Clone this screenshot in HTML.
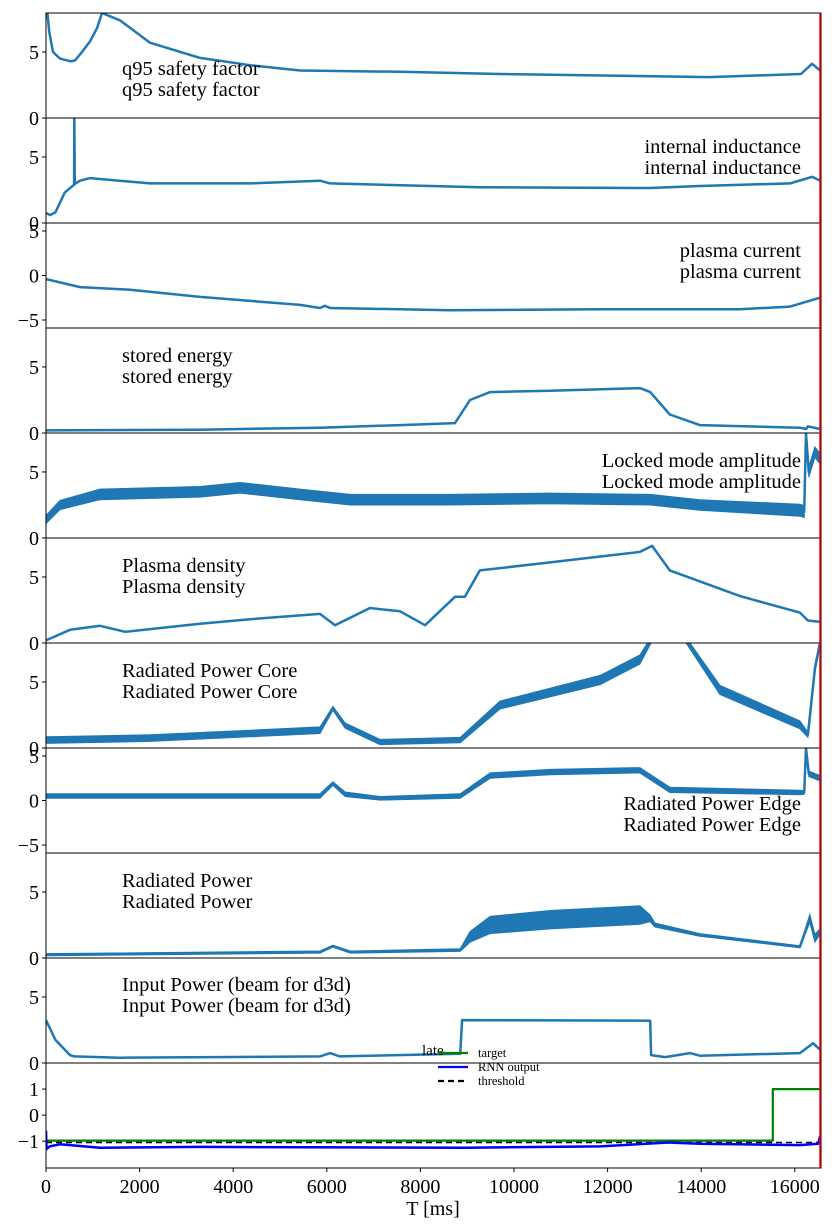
<!DOCTYPE html>
<html><head><meta charset="utf-8"><style>
body{margin:0;background:#fff}
svg{display:block;font-family:"Liberation Serif",serif}
</style></head><body>
<svg id="chart" width="834" height="1230" viewBox="0 0 834 1230" xmlns="http://www.w3.org/2000/svg"></svg>
<script>
// ---- data (time in ms, values in normalized units) ----
const xTicks=[0,2000,4000,6000,8000,10000,12000,14000,16000];
const panelNames=["q95 safety factor","internal inductance","plasma current","stored energy","Locked mode amplitude","Plasma density","Radiated Power Core","Radiated Power Edge","Radiated Power","Input Power (beam for d3d)"];
const q95T=[30,70,150,300,513,620,770,940,1090,1197,1580,2222,3290,4360,5430,7565,9700,14180,16130,16370,16540];
const q95V=[7.95,6.5,5.0,4.5,4.3,4.35,5.0,5.8,6.8,7.95,7.4,5.7,4.55,4.0,3.6,3.5,3.33,3.1,3.33,4.1,3.6];
const liT=[10,85,200,400,600,605,615,726,940,2222,4360,5855,6070,9270,12910,13970,15900,16370,16540];
const liV=[0.75,0.6,0.8,2.3,2.9,7.95,2.95,3.2,3.4,3.0,3.0,3.2,3.0,2.7,2.65,2.8,3.0,3.5,3.2];
const ipT=[0,726,1795,3290,5430,5855,5960,6070,8630,11840,14830,15900,16540];
const ipV=[-0.4,-1.3,-1.6,-2.4,-3.3,-3.65,-3.4,-3.65,-3.9,-3.8,-3.8,-3.5,-2.5];
const weT=[0,3290,5855,7565,8740,9060,9490,10770,12690,12910,13330,13970,16110,16240,16280,16540];
const weV=[0.2,0.25,0.4,0.6,0.75,2.5,3.1,3.2,3.4,3.1,1.4,0.6,0.4,0.3,0.5,0.3];
const lmT=[0,300,1154,3290,4145,5430,6500,8630,10770,12910,13970,16110,16200,16240,16300,16430,16540];
const lmV=[1.4,2.5,3.3,3.5,3.8,3.3,2.9,2.9,3.0,2.9,2.5,2.1,2.0,7.9,5.0,6.5,6.0];
const lmS=[0.3,0.35,0.4,0.4,0.4,0.4,0.4,0.4,0.4,0.4,0.4,0.45,0.45,0.2,0.4,0.4,0.4];
const neT=[0,513,1154,1690,3290,4360,5855,6175,6920,7565,8100,8740,8950,9270,10770,12690,12950,13330,14830,16110,16280,16540];
const neV=[0.2,1.0,1.3,0.85,1.45,1.8,2.2,1.35,2.65,2.4,1.35,3.5,3.5,5.5,6.1,6.9,7.35,5.5,3.55,2.3,1.7,1.6];
const prcT=[0,2222,4360,5855,6130,6390,7140,8850,9700,11840,12690,12950,13650,14400,16110,16280,16430,16540];
const prcV=[0.6,0.75,1.1,1.35,3.0,1.7,0.45,0.6,3.25,5.15,6.7,8.3,8.3,4.4,1.75,1.0,6.0,8.0];
const prcS=[0.25,0.25,0.25,0.25,0.15,0.2,0.2,0.2,0.3,0.35,0.35,0.2,0.2,0.35,0.3,0.2,0.3,0.2];
const preT=[0,5855,6130,6390,7140,8850,9490,10770,12690,13330,16110,16200,16240,16300,16540];
const preV=[0.5,0.5,1.9,0.7,0.25,0.5,2.8,3.2,3.4,1.2,0.9,0.9,5.9,3.0,2.5];
const preS=[0.25,0.25,0.2,0.25,0.2,0.25,0.3,0.3,0.3,0.3,0.25,0.2,0.2,0.3,0.3];
const prT=[0,5855,6130,6500,8850,9060,9490,10770,12690,12910,13010,13970,16110,16320,16430,16540];
const prV=[0.25,0.45,0.9,0.45,0.6,1.6,2.5,2.9,3.25,3.0,2.5,1.75,0.85,3.0,1.5,2.0];
const prS=[0.08,0.08,0.08,0.08,0.1,0.4,0.65,0.7,0.7,0.25,0.15,0.1,0.08,0.3,0.3,0.2];
const pinT=[0,200,513,600,1580,5855,6070,6280,8850,8890,12910,12930,13230,13760,13970,16110,16390,16540];
const pinV=[3.25,1.75,0.6,0.5,0.4,0.5,0.75,0.5,0.7,3.25,3.2,0.6,0.45,0.75,0.55,0.75,1.5,1.0];
const targetT=[0,15530,15530,16540];
const targetV=[-0.98,-0.98,1.0,1.0];
const rnnT=[0,10,80,300,1150,3290,6500,9000,11840,13300,13970,16110,16500,16540];
const rnnV=[-0.6,-1.3,-1.2,-1.12,-1.25,-1.22,-1.24,-1.25,-1.2,-1.05,-1.1,-1.15,-1.1,-0.8];
const thrT=[0,16540];
const thrV=[-1.05,-1.05];
const yTicksA=[0,5];
const yTicksB=[-5,0,5];
const yTicksC=[-1,0,1];

// ---- layout ----
const svg=document.getElementById('chart');
const NS='http://www.w3.org/2000/svg';
const L=46,R=821,xs=0.0468;
function X(t){return L+t*xs;}
const panels=[
 {name:'q95',T:q95T,V:q95V,lo:0,hi:7.95,ticks:yTicksA,lab:0,side:'l',ly:68},
 {name:'internal-inductance',T:liT,V:liV,lo:0,hi:7.95,ticks:yTicksA,lab:1,side:'r',ly:146},
 {name:'plasma-current',T:ipT,V:ipV,lo:-5.9,hi:5.9,ticks:yTicksB,lab:2,side:'r',ly:250},
 {name:'stored-energy',T:weT,V:weV,lo:0,hi:7.95,ticks:yTicksA,lab:3,side:'l',ly:355},
 {name:'locked-mode',T:lmT,V:lmV,S:lmS,lo:0,hi:7.95,ticks:yTicksA,lab:4,side:'r',ly:460},
 {name:'plasma-density',T:neT,V:neV,lo:0,hi:7.95,ticks:yTicksA,lab:5,side:'l',ly:565},
 {name:'radiated-power-core',T:prcT,V:prcV,S:prcS,lo:0,hi:7.95,ticks:yTicksA,lab:6,side:'l',ly:670},
 {name:'radiated-power-edge',T:preT,V:preV,S:preS,lo:-5.9,hi:5.9,ticks:yTicksB,lab:7,side:'r',ly:803},
 {name:'radiated-power',T:prT,V:prV,S:prS,lo:0,hi:7.95,ticks:yTicksA,lab:8,side:'l',ly:880},
 {name:'input-power',T:pinT,V:pinV,lo:0,hi:7.95,ticks:yTicksA,lab:9,side:'l',ly:984},
 {name:'late-prediction',lo:-2.03,hi:2.0,ticks:yTicksC,lab:-1}
];
const top0=13,ph=105;
function el(tag,attrs,parent){const e=document.createElementNS(NS,tag);for(const k in attrs)e.setAttribute(k,attrs[k]);(parent||svg).appendChild(e);return e;}
let defs=el('defs',{});
panels.forEach((p,i)=>{
 const y0=top0+i*ph,y1=y0+ph;
 const Y=v=>y1-(v-p.lo)/(p.hi-p.lo)*ph;
 const g=el('g',{});
 
 
 const cp=el('clipPath',{id:'c'+i},defs);
 el('rect',{x:L,y:y0,width:R-L,height:ph},cp);
 const plot=el('g',{'clip-path':'url(#c'+i+')'},g);
 function line(T,V,color,w,dash,nm){
  const pts=T.map((t,j)=>X(t).toFixed(1)+','+Y(V[j]).toFixed(1)).join(' ');
  const pl=el('polyline',{points:pts,fill:'none',stroke:color,'stroke-width':w,'stroke-linejoin':'round'},plot);
  if(dash)pl.setAttribute('stroke-dasharray',dash);
  
  
 }
 if(p.T){
  if(p.S){
   const up=p.T.map((t,j)=>X(t).toFixed(1)+','+Y(p.V[j]+p.S[j]).toFixed(1));
   const dn=p.T.map((t,j)=>X(t).toFixed(1)+','+Y(p.V[j]-p.S[j]).toFixed(1)).reverse();
   const band=el('polygon',{points:up.concat(dn).join(' '),fill:'#1f77b4',stroke:'#1f77b4','stroke-width':1},plot);
   
   
  }
  line(p.T,p.V,'#1f77b4',2.5,null,p.name+'-series');
 } else {
  line(targetT,targetV,'#008000',2.2,null,'target-series');
  line(thrT,thrV,'#000',1.6,'6,4','threshold-series');
  line(rnnT,rnnV,'#0000ff',2.5,null,'rnn-output-series');
 }
 const fr=el('rect',{x:L,y:y0,width:R-L,height:ph,fill:'none',stroke:'#000','stroke-width':1},g);
 
 
 p.ticks.forEach(v=>{
  const yy=Y(v);
  el('line',{x1:L-4,x2:L,y1:yy,y2:yy,stroke:'#000','stroke-width':1},g);
  const tx=el('text',{x:L-7,y:yy+7,'font-size':20,'text-anchor':'end'},g);
  tx.textContent=v<0?'\u2212'+Math.abs(v):String(v);
  
  
 });
 if(p.lab>=0){
  const nm=panelNames[p.lab];
  [0,1].forEach(k=>{
   const t=el('text',{x:p.side==='l'?122:801,y:p.ly+7+k*21,'font-size':20.5,'text-anchor':p.side==='l'?'start':'end'},g);
   t.textContent=nm;
   
   
  });
 }
 if(i===panels.length-1){
  xTicks.forEach(t=>{
   el('line',{x1:X(t),x2:X(t),y1:y1,y2:y1+4,stroke:'#000','stroke-width':1},g);
   const tx=el('text',{x:X(t),y:y1+25,'font-size':20,'text-anchor':'middle'},g);
   tx.textContent=String(t);
   
   
  });
 }
});
// red end line
const red=el('line',{x1:820,x2:820,y1:13,y2:1168,stroke:'#ff0000','stroke-width':1.5});


const xt=el('text',{x:433,y:1215,'font-size':20,'text-anchor':'middle'});
xt.textContent='T [ms]';


// legend
const lg=el('g',{});


const lt=el('text',{x:422,y:1055,'font-size':15},lg);
lt.textContent='late';
const items=[['target','#008000',null,1053],['RNN output','#0000ff',null,1067],['threshold','#000','6,4',1081]];
items.forEach(it=>{
 const ln=el('line',{x1:438,x2:468,y1:it[3],y2:it[3],stroke:it[1],'stroke-width':2.2},lg);
 if(it[2])ln.setAttribute('stroke-dasharray',it[2]);
 const t=el('text',{x:478,y:it[3]+4,'font-size':12.5},lg);
 t.textContent=it[0];
 
 
});
</script>
</body></html>
